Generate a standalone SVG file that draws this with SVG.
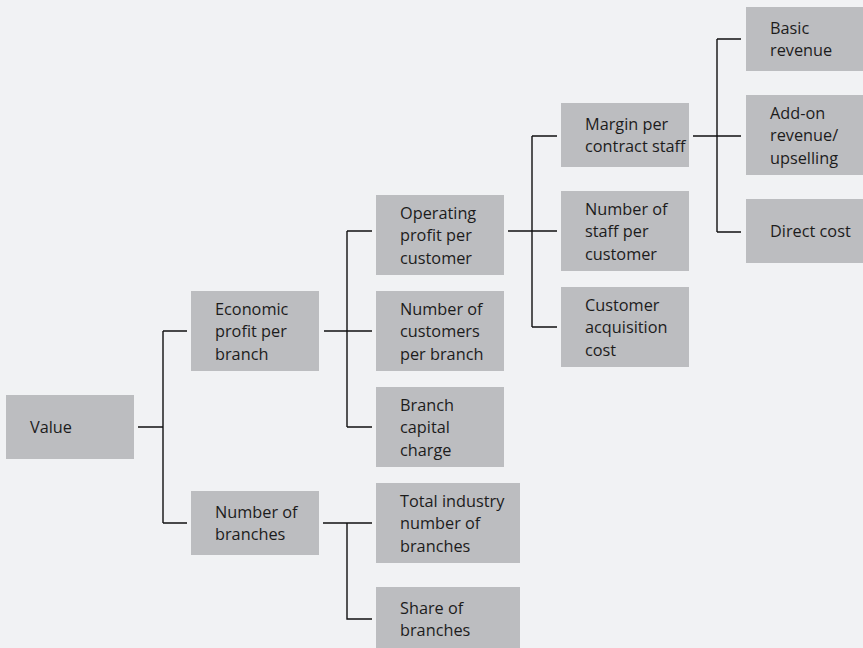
<svg xmlns="http://www.w3.org/2000/svg" width="863" height="648" viewBox="0 0 863 648">
<style>
.bx{fill:#bcbdc0}
.t{font-family:"Open Sans","Noto Sans",sans-serif;font-size:16.3px;fill:#1c1c1c}
.c{stroke:#111111;stroke-width:1.4;fill:none}
</style>
<rect width="863" height="648" fill="#f1f2f4"/>
<g id="connectors">
<path class="c" d="M138,427H163M163,331V523M163,331H187M163,523H187"/>
<path class="c" d="M324,331H372M347,231V427M347,231H372M347,427H372"/>
<path class="c" d="M323,523H372M347,523V619H372"/>
<path class="c" d="M508,231H557M532,136V327M532,136H557M532,327H557"/>
<path class="c" d="M693,136H741M717,39V232M717,39H741M717,232H741"/>
</g>
<g id="value"><rect class="bx" x="6" y="395" width="128" height="64"/><text class="t" x="30" y="433">Value</text></g>
<g id="economic"><rect class="bx" x="191" y="291" width="128" height="80"/><text class="t"><tspan x="215" y="314.5">Economic</tspan><tspan x="215" y="337">profit per</tspan><tspan x="215" y="359.5">branch</tspan></text></g>
<g id="nbranches"><rect class="bx" x="191" y="491" width="128" height="64"/><text class="t"><tspan x="215" y="518">Number of</tspan><tspan x="215" y="540">branches</tspan></text></g>
<g id="operating"><rect class="bx" x="376" y="195" width="128" height="80"/><text class="t"><tspan x="400" y="218.5">Operating</tspan><tspan x="400" y="241">profit per</tspan><tspan x="400" y="263.5">customer</tspan></text></g>
<g id="ncustomers"><rect class="bx" x="376" y="291" width="128" height="80"/><text class="t"><tspan x="400" y="314.5">Number of</tspan><tspan x="400" y="337">customers</tspan><tspan x="400" y="359.5">per branch</tspan></text></g>
<g id="capital"><rect class="bx" x="376" y="387" width="128" height="80"/><text class="t"><tspan x="400" y="410.5">Branch</tspan><tspan x="400" y="433">capital</tspan><tspan x="400" y="455.5">charge</tspan></text></g>
<g id="industry"><rect class="bx" x="376" y="483" width="144" height="80"/><text class="t"><tspan x="400" y="506.5">Total industry</tspan><tspan x="400" y="529">number of</tspan><tspan x="400" y="551.5">branches</tspan></text></g>
<g id="share"><rect class="bx" x="376" y="587" width="144" height="64"/><text class="t"><tspan x="400" y="614">Share of</tspan><tspan x="400" y="636">branches</tspan></text></g>
<g id="margin"><rect class="bx" x="561" y="103" width="128" height="64"/><text class="t"><tspan x="585" y="130">Margin per</tspan><tspan x="585" y="152">contract staff</tspan></text></g>
<g id="nstaff"><rect class="bx" x="561" y="191" width="128" height="80"/><text class="t"><tspan x="585" y="214.5">Number of</tspan><tspan x="585" y="237">staff per</tspan><tspan x="585" y="259.5">customer</tspan></text></g>
<g id="acquisition"><rect class="bx" x="561" y="287" width="128" height="80"/><text class="t"><tspan x="585" y="310.5">Customer</tspan><tspan x="585" y="333">acquisition</tspan><tspan x="585" y="355.5">cost</tspan></text></g>
<g id="basic"><rect class="bx" x="746" y="7" width="128" height="64"/><text class="t"><tspan x="770" y="34">Basic</tspan><tspan x="770" y="56">revenue</tspan></text></g>
<g id="addon"><rect class="bx" x="746" y="95" width="128" height="80"/><text class="t"><tspan x="770" y="118.5">Add-on</tspan><tspan x="770" y="141">revenue/</tspan><tspan x="770" y="163.5">upselling</tspan></text></g>
<g id="direct"><rect class="bx" x="746" y="199" width="128" height="64"/><text class="t" x="770" y="237">Direct cost</text></g>
</svg>
